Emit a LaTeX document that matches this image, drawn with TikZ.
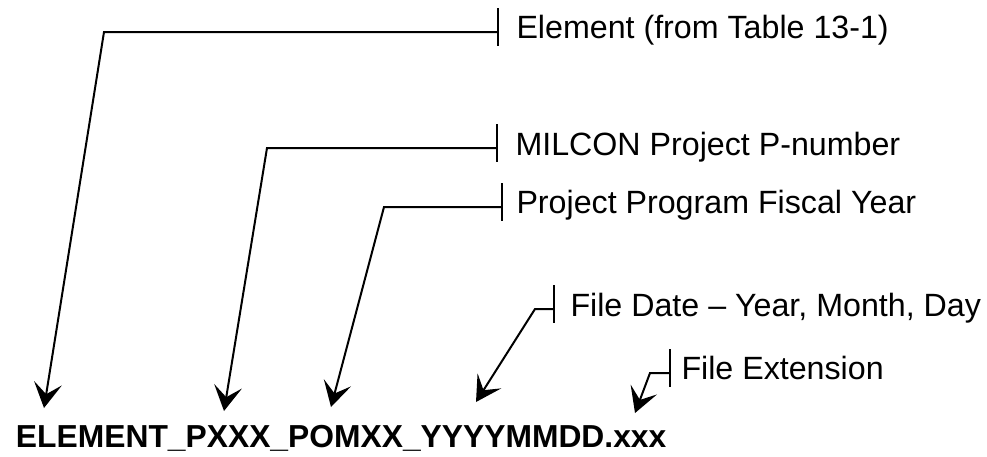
\documentclass[tikz,border=0pt]{standalone}
\usepackage{fontspec}
\setmainfont{Liberation Sans}
\usetikzlibrary{arrows.meta}
\begin{document}
\begin{tikzpicture}[x=1pt,y=-1pt,line width=2pt,
  conn/.style={-{Stealth[length=25pt,width=28pt,inset=11pt]},line join=miter},
  barline/.style={line cap=butt},
  lbl/.style={anchor=base west,inner sep=0pt,font=\fontsize{32.2}{38}\selectfont},
  fname/.style={anchor=base west,inner sep=0pt,font=\fontsize{31.8}{38}\selectfont\bfseries}]
\useasboundingbox (0,0) rectangle (987,456);
% file name
\node[fname] (name) at (15,447) {ELEMENT\_PXXX\_POMXX\_YYYYMMDD.xxx};
% labels
\node[lbl] (l1) at (515.5,38) {Element (from Table 13-1)};
\node[lbl] (l2) at (514.5,155) {MILCON Project P-number};
\node[lbl] (l3) at (515.5,213) {Project Program Fiscal Year};
\node[lbl] (l4) at (569.5,316) {File Date \textendash{} Year, Month, Day};
\node[lbl] (l5) at (680.5,379) {File Extension};
% bar points, corners, tips
\coordinate (b1) at (498,32);  \coordinate (c1) at (104,32);  \coordinate (t1) at (44,408);
\coordinate (b2) at (497,148); \coordinate (c2) at (267,148); \coordinate (t2) at (224,411);
\coordinate (b3) at (502,207); \coordinate (c3) at (384,207); \coordinate (t3) at (331,407);
\coordinate (b4) at (554,309); \coordinate (c4) at (535,309); \coordinate (t4) at (476,402);
\coordinate (b5) at (670,373); \coordinate (c5) at (650,373); \coordinate (t5) at (635,413);
% bars
\foreach \i in {1,...,5}{
  \draw[barline] ([yshift=24pt]b\i) -- ([yshift=-14pt]b\i);
}
% connectors
\draw[conn] (b1) -- (c1) -- (t1);
\draw[conn] (b2) -- (c2) -- (t2);
\draw[conn] (b3) -- (c3) -- (t3);
\draw[conn] (b4) -- (c4) -- (t4);
\draw[conn] (b5) -- (c5) -- (t5);
\end{tikzpicture}
\end{document}
